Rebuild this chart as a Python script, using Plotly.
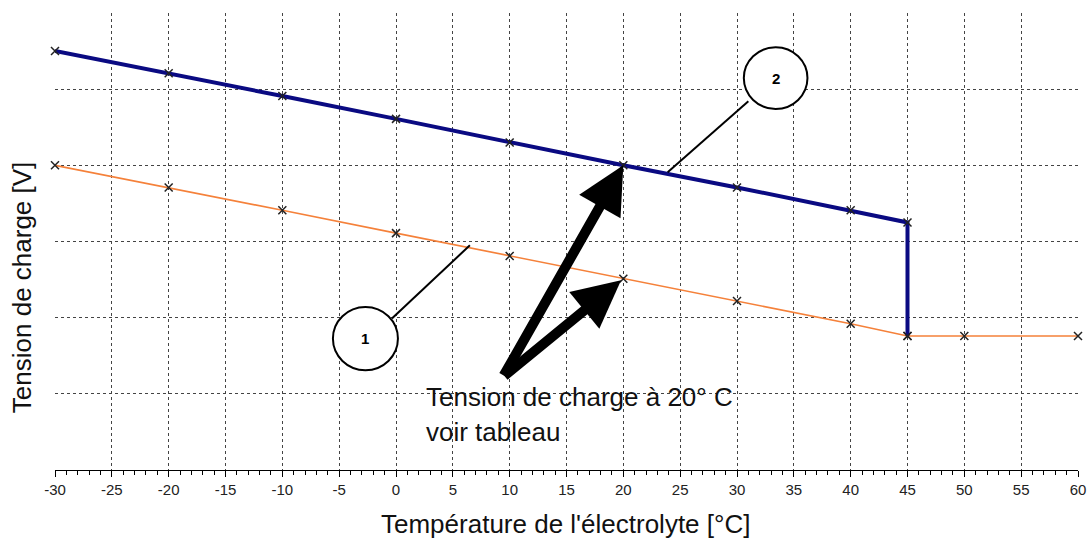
import plotly.graph_objects as go

# Data
temps_hi = [-30, -20, -10, 0, 10, 20, 30, 40, 45, 45]
volt_hi = [5.50, 5.21, 4.91, 4.61, 4.30, 4.00, 3.71, 3.41, 3.25, 1.76]
temps_lo = [-30, -20, -10, 0, 10, 20, 30, 40, 45, 50, 60]
volt_lo = [4.00, 3.71, 3.41, 3.11, 2.81, 2.51, 2.22, 1.92, 1.76, 1.76, 1.76]
x_ticks = list(range(-30, 61, 5))
x_labels = [str(v) for v in x_ticks]
y_grid = list(range(0, 7))

FONT = "Liberation Sans, Arial, sans-serif"
TXT = "#111111"

fig = go.Figure()
fig.add_trace(go.Scatter(
    x=temps_lo, y=volt_lo, mode="lines+markers", cliponaxis=False,
    line=dict(color="#F5813A", width=1.6),
    marker=dict(symbol="x-thin", size=8, line=dict(color="#222222", width=1.5)),
    showlegend=False, hoverinfo="skip"))
fig.add_trace(go.Scatter(
    x=temps_hi, y=volt_hi, mode="lines+markers", cliponaxis=False,
    line=dict(color="#0A0A82", width=4),
    marker=dict(symbol="x-thin", size=8, line=dict(color="#222222", width=1.5)),
    showlegend=False, hoverinfo="skip"))

shapes = [
    # callout circles
    dict(type="circle", xref="x", yref="y", x0=30.6, x1=36.2, y0=4.74, y1=5.55,
         line=dict(color="black", width=2), fillcolor="white", layer="above"),
    dict(type="circle", xref="x", yref="y", x0=-5.55, x1=0.17, y0=1.31, y1=2.14,
         line=dict(color="black", width=2), fillcolor="white", layer="above"),
    # callout lines
    dict(type="line", xref="x", yref="y", x0=31.0, y0=4.84, x1=23.9, y1=3.91,
         line=dict(color="black", width=2)),
    dict(type="line", xref="x", yref="y", x0=-0.36, y0=1.99, x1=6.5, y1=2.95,
         line=dict(color="black", width=2)),
]

annotations = [
    dict(x=33.4, y=5.14, xref="x", yref="y", text="<b>2</b>", showarrow=False,
         font=dict(family=FONT, size=15, color="black")),
    dict(x=-2.7, y=1.73, xref="x", yref="y", text="<b>1</b>", showarrow=False,
         font=dict(family=FONT, size=15, color="black")),
    dict(x=20.0, y=4.0, ax=9.4, ay=1.22, xref="x", yref="y", axref="x", ayref="y",
         showarrow=True, arrowhead=2, arrowsize=0.95, arrowwidth=10, arrowcolor="black",
         text="", standoff=0),
    dict(x=19.8, y=2.49, ax=9.4, ay=1.22, xref="x", yref="y", axref="x", ayref="y",
         showarrow=True, arrowhead=2, arrowsize=0.95, arrowwidth=10, arrowcolor="black",
         text="", standoff=0),
    dict(x=2.5, y=0.96, xref="x", yref="y", xanchor="left", yanchor="middle",
         text="Tension de charge à 20° C", showarrow=False,
         font=dict(family=FONT, size=26, color=TXT)),
    dict(x=2.5, y=0.50, xref="x", yref="y", xanchor="left", yanchor="middle",
         text="voir tableau", showarrow=False,
         font=dict(family=FONT, size=26, color=TXT)),
    # axis titles (paper coords are relative to the plot area)
    dict(x=-0.0323, y=0.400, xref="paper", yref="paper", showarrow=False,
         text="Tension de charge [V]", textangle=-90, xanchor="center", yanchor="middle",
         font=dict(family=FONT, size=26, color=TXT)),
    dict(x=0.4995, y=-0.118, xref="paper", yref="paper", showarrow=False,
         text="Température de l'électrolyte [°C]", xanchor="center", yanchor="middle",
         font=dict(family=FONT, size=26, color=TXT)),
]

fig.update_layout(
    width=1092, height=541,
    margin=dict(l=55, r=14, t=13, b=71, autoexpand=False),
    paper_bgcolor="white", plot_bgcolor="white",
    shapes=shapes, annotations=annotations,
    font=dict(family=FONT, color="black"),
    xaxis=dict(
        range=[-30, 60], tickmode="array", tickvals=x_ticks, ticktext=x_labels,
        showgrid=True, gridcolor="#444444", griddash="dot", gridwidth=1,
        showline=True, linecolor="black", linewidth=1,
        ticks="outside", ticklen=6, tickcolor="black",
        minor=dict(dtick=1, ticks="outside", ticklen=4, tickcolor="black", showgrid=False),
        tickfont=dict(size=15, family=FONT, color="#222222"),
        zeroline=False, automargin=False,
    ),
    yaxis=dict(
        range=[0, 6], tickmode="array", tickvals=y_grid, showticklabels=False,
        showgrid=True, gridcolor="#444444", griddash="dot", gridwidth=1,
        showline=False, zeroline=False, ticks="", automargin=False,
    ),
)

fig.write_html(
    "out.html",
    config={"displayModeBar": False},
    post_script="document.body.style.margin='0';document.body.style.overflow='hidden';",
)
